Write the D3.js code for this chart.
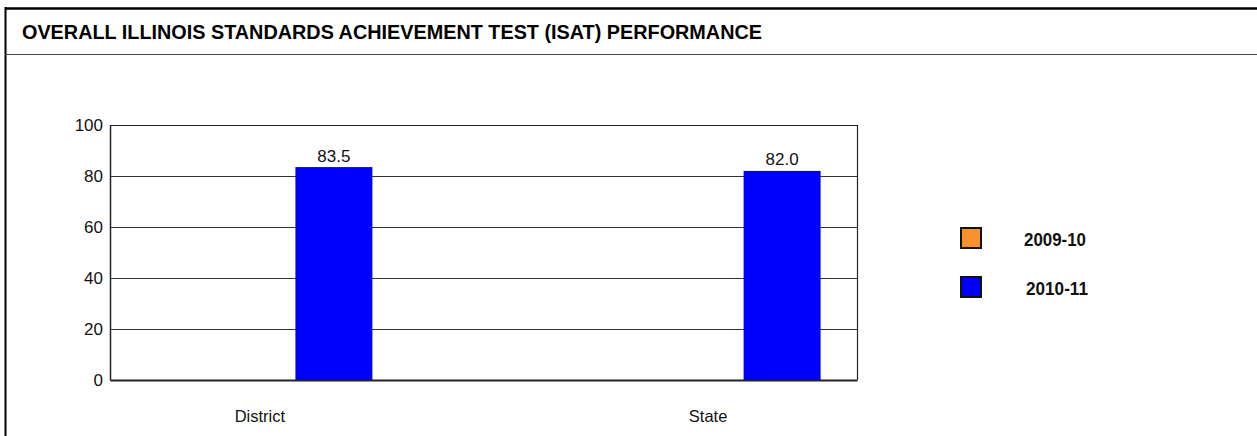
<!DOCTYPE html>
<html>
<head>
<meta charset="utf-8">
<script src="https://cdn.jsdelivr.net/npm/d3@7"></script>
<style>
  html, body { margin: 0; padding: 0; background: #fff; }
  svg { display: block; font-family: Arial, "Liberation Sans", sans-serif; }
</style>
</head>
<body>
<svg id="chart" width="1257" height="436"></svg>
<script>
const title = "OVERALL ILLINOIS STANDARDS ACHIEVEMENT TEST (ISAT) PERFORMANCE";
const categories = ["District", "State"];
const seriesNames = ["2009-10", "2010-11"];
const values2009 = [null, null];
const values2010 = [83.5, 82.0];
const yTicks = [0, 20, 40, 60, 80, 100];
const colors = ["#F7922F", "#0000FF"];

const series = [
  { name: seriesNames[0], values: values2009, color: colors[0] },
  { name: seriesNames[1], values: values2010, color: colors[1] }
];

const svg = d3.select("#chart");
const W = 1257, H = 436;
const plot = { left: 110, right: 857, top: 125, bottom: 380 };

// frame
svg.append("line").attr("x1", 5.5).attr("x2", 5.5).attr("y1", 7).attr("y2", H)
  .attr("stroke", "#000").attr("stroke-width", 2);
svg.append("line").attr("x1", 5).attr("x2", W).attr("y1", 8.5).attr("y2", 8.5)
  .attr("stroke", "#000").attr("stroke-width", 2.5);
svg.append("line").attr("x1", 5).attr("x2", W).attr("y1", 54.5).attr("y2", 54.5)
  .attr("stroke", "#444").attr("stroke-width", 1.2);

svg.append("text").attr("x", 22).attr("y", 38.5)
  .attr("font-size", 20).attr("font-weight", "bold").attr("fill", "#000")
  .attr("textLength", 740).attr("lengthAdjust", "spacingAndGlyphs")
  .text(title);

const y = d3.scaleLinear().domain([0, 100]).range([plot.bottom, plot.top]);
const x = d3.scalePoint().domain(categories).range([plot.left, plot.right]).padding(1 / 3);
const xs = d3.scaleBand().domain(seriesNames).range([-41, 113]);

// gridlines
svg.append("g").selectAll("line").data(yTicks.filter(t => t > 0 && t < 100)).join("line")
  .attr("x1", plot.left).attr("x2", plot.right)
  .attr("y1", d => Math.round(y(d)) + 0.5).attr("y2", d => Math.round(y(d)) + 0.5)
  .attr("stroke", "#333").attr("stroke-width", 1);

// bars
series.forEach(s => {
  svg.append("g").selectAll("rect")
    .data(categories.map((c, i) => ({ c, v: s.values[i] })).filter(d => d.v != null))
    .join("rect")
    .attr("x", d => x(d.c) + xs(s.name))
    .attr("width", xs.bandwidth())
    .attr("y", d => y(d.v))
    .attr("height", d => y(0) - y(d.v))
    .attr("fill", s.color);
  svg.append("g").selectAll("text")
    .data(categories.map((c, i) => ({ c, v: s.values[i] })).filter(d => d.v != null))
    .join("text")
    .attr("x", d => x(d.c) + xs(s.name) + xs.bandwidth() / 2)
    .attr("y", d => y(d.v) - 5.5)
    .attr("text-anchor", "middle")
    .attr("font-size", 17).attr("fill", "#111")
    .text(d => d.v.toFixed(1));
});

// plot border top/right
svg.append("line").attr("x1", plot.left).attr("x2", plot.right + 0.5)
  .attr("y1", plot.top + 0.5).attr("y2", plot.top + 0.5).attr("stroke", "#222").attr("stroke-width", 1);
svg.append("line").attr("x1", plot.right + 0.5).attr("x2", plot.right + 0.5)
  .attr("y1", plot.top).attr("y2", plot.bottom).attr("stroke", "#222").attr("stroke-width", 1.2);

// y axis
const yAxis = d3.axisLeft(y).tickValues(yTicks).tickSize(0).tickPadding(7).tickFormat(d3.format("d"));
const gy = svg.append("g").attr("transform", `translate(${plot.left},0)`).call(yAxis);
gy.select(".domain").attr("stroke", "#222").attr("stroke-width", 1.5);
gy.selectAll("text").attr("font-size", 17).attr("fill", "#111").attr("font-family", "Arial, 'Liberation Sans', sans-serif");

// x axis
const xAxis = d3.axisBottom(x).tickSize(0).tickPadding(30);
const gx = svg.append("g").attr("transform", `translate(0,${plot.bottom})`).call(xAxis);
gx.select(".domain").attr("stroke", "#222").attr("stroke-width", 2.2);
gx.selectAll("text").attr("font-size", 16.5).attr("fill", "#111").attr("font-family", "Arial, 'Liberation Sans', sans-serif");

// legend
const legendY = [228, 277];
const legendTextX = [1024, 1026];
const legend = svg.append("g");
series.forEach((s, i) => {
  legend.append("rect").attr("x", 961).attr("y", legendY[i]).attr("width", 20).attr("height", 20)
    .attr("fill", s.color).attr("stroke", "#111").attr("stroke-width", 2);
  legend.append("text").attr("x", legendTextX[i]).attr("y", legendY[i] + 17.5)
    .attr("font-size", 19).attr("font-weight", "bold").attr("fill", "#111")
    .attr("textLength", 62).attr("lengthAdjust", "spacingAndGlyphs")
    .text(s.name);
});
</script>
</body>
</html>
